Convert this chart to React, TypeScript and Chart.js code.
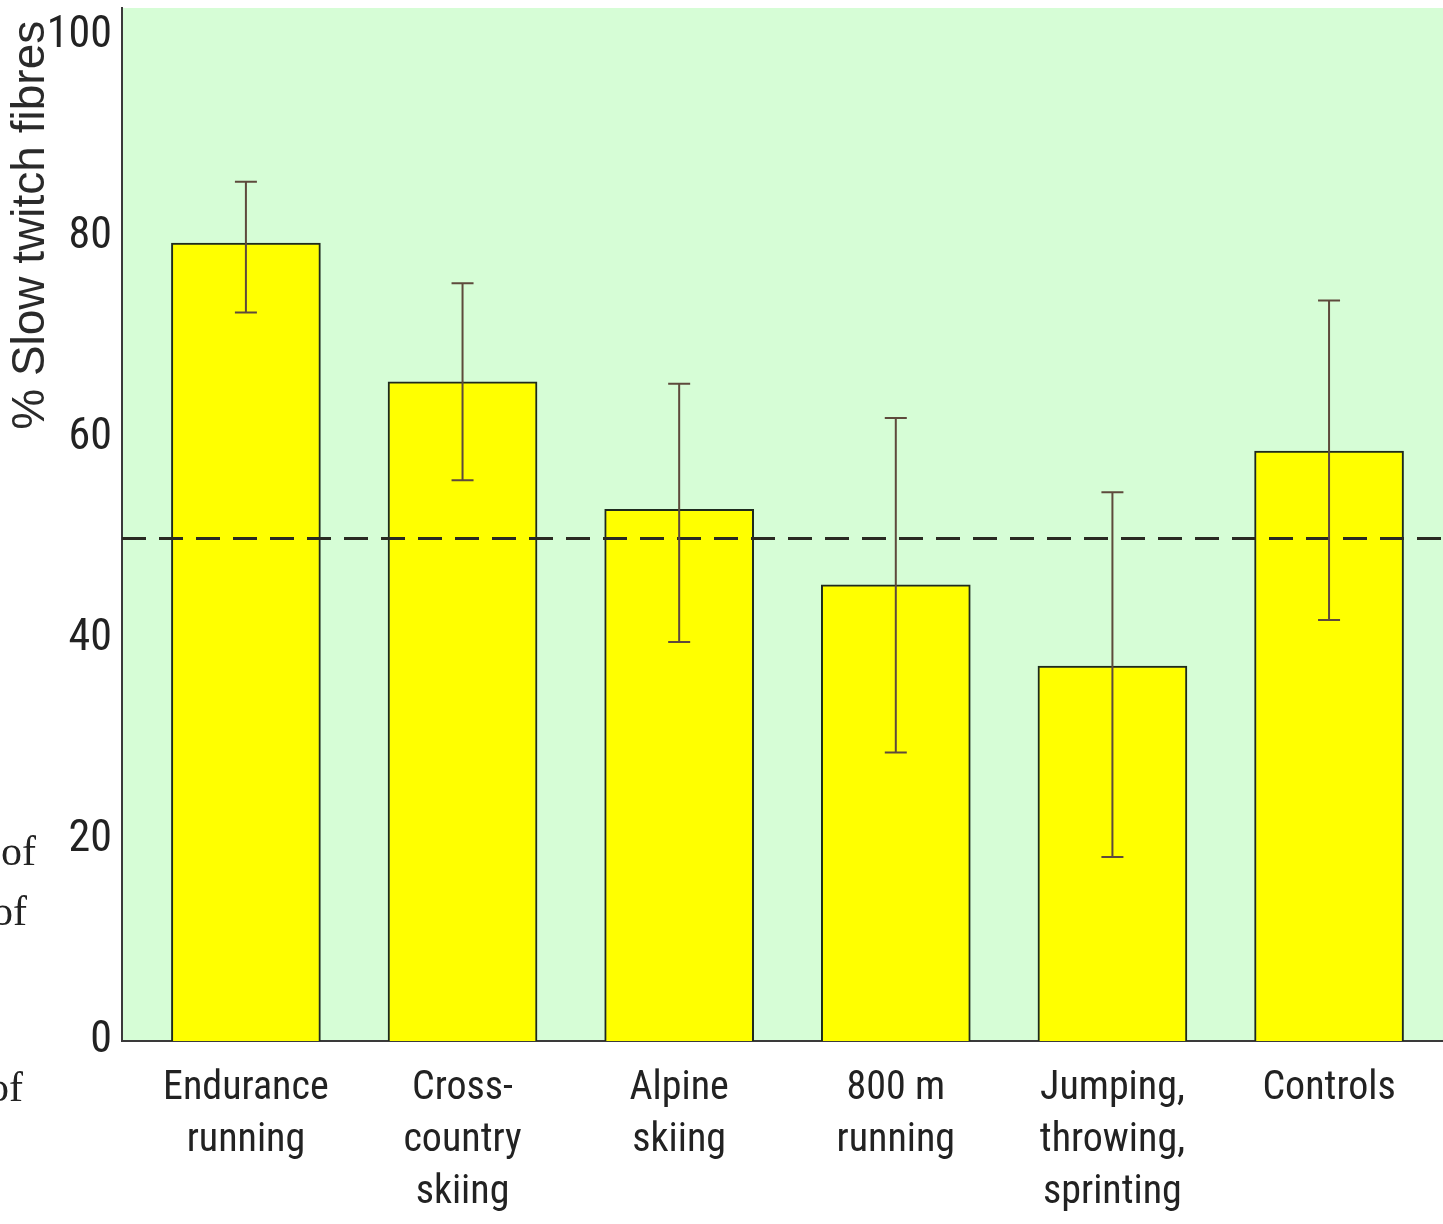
import React, { useEffect, useRef } from "react";
import { Chart, registerables } from "chart.js";

Chart.register(...registerables);

// ---- data ----
const categories = [
  "Endurance running",
  "Cross-country skiing",
  "Alpine skiing",
  "800 m running",
  "Jumping, throwing, sprinting",
  "Controls",
];
const categoryLines = [
  ["Endurance", "running"],
  ["Cross-", "country", "skiing"],
  ["Alpine", "skiing"],
  ["800 m", "running"],
  ["Jumping,", "throwing,", "sprinting"],
  ["Controls"],
];
const meanValues = [79.4, 65.6, 52.9, 45.4, 37.3, 58.7];
const errorHigh = [85.5, 75.4, 65.4, 62.0, 54.6, 73.7];
const errorLow = [72.5, 55.8, 39.7, 28.7, 18.3, 41.9];
const referenceLevel = 50;
const yTickValues = [0, 20, 40, 60, 80, 100];
const yAxisTitle = "% Slow twitch fibres";
const marginFragments = ["of", "of", "of"];

const X_MIN = -0.572;
const X_MAX = 5.526;
const Y_MAX = 102.8;

const NARROW = "'Liberation Sans Narrow', 'Arial Narrow', 'Roboto Condensed', 'Liberation Sans', sans-serif";

const backgroundPlugin = {
  id: "greenBackground",
  beforeDraw(chart: any) {
    const { ctx, chartArea } = chart;
    ctx.save();
    ctx.fillStyle = "#d6fdd6";
    ctx.fillRect(chartArea.left, chartArea.top, chartArea.right - chartArea.left, chartArea.bottom - chartArea.top);
    ctx.restore();
  },
};

const errorBarPlugin = {
  id: "errorBars",
  afterDatasetsDraw(chart: any) {
    const { ctx, scales } = chart;
    const xs = scales.x;
    const ys = scales.y;
    ctx.save();
    ctx.strokeStyle = "#5e4a3c";
    ctx.lineWidth = 2;
    const cap = 11;
    meanValues.forEach((_, i) => {
      const x = xs.getPixelForValue(i);
      const yh = ys.getPixelForValue(errorHigh[i]);
      const yl = ys.getPixelForValue(errorLow[i]);
      ctx.beginPath();
      ctx.moveTo(x, yh);
      ctx.lineTo(x, yl);
      ctx.moveTo(x - cap, yh);
      ctx.lineTo(x + cap, yh);
      ctx.moveTo(x - cap, yl);
      ctx.lineTo(x + cap, yl);
      ctx.stroke();
    });
    ctx.restore();
  },
};

export default function App() {
  const canvasRef = useRef<HTMLCanvasElement | null>(null);

  useEffect(() => {
    if (!canvasRef.current) return;
    const chart = new Chart(canvasRef.current, {
      type: "bar",
      data: {
        datasets: [
          {
            type: "line" as any,
            label: "reference",
            data: [
              { x: X_MIN, y: referenceLevel },
              { x: X_MAX, y: referenceLevel },
            ],
            borderColor: "#2a2a22",
            borderWidth: 3,
            borderDash: [24, 13],
            pointRadius: 0,
            fill: false,
            order: 1,
          },
          {
            type: "bar" as any,
            label: "Slow twitch fibres",
            data: categories.map((_, i) => ({ x: i, y: meanValues[i] })),
            backgroundColor: "#ffff00",
            borderColor: "#1e2a1e",
            borderWidth: 2,
            barThickness: 149,
            order: 2,
          },
        ],
      },
      options: {
        responsive: false,
        animation: false,
        events: [],
        layout: { autoPadding: false, padding: { top: 8, right: 0, left: 0, bottom: 0 } },
        plugins: {
          legend: { display: false },
          tooltip: { enabled: false },
          title: { display: false },
        },
        scales: {
          x: {
            type: "linear",
            min: X_MIN,
            max: X_MAX,
            offset: false,
            grid: { display: false, drawTicks: false },
            border: { display: true, color: "#3a3a3a", width: 2 },
            afterBuildTicks: (axis: any) => {
              axis.ticks = categories.map((_, i) => ({ value: i }));
            },
            afterFit: (scale: any) => {
              scale.height = 1224 - 1041;
              scale.paddingLeft = 0;
              scale.paddingRight = 0;
            },
            ticks: {
              autoSkip: false,
              maxRotation: 0,
              minRotation: 0,
              padding: 22,
              color: "#222222",
              font: { family: NARROW, size: 40, lineHeight: 1.3 },
              callback: (v: any) => categoryLines[Math.round(v)] ?? "",
            },
          },
          y: {
            type: "linear",
            min: 0,
            max: Y_MAX,
            grid: { display: false, drawTicks: false },
            border: { display: true, color: "#3a3a3a", width: 2 },
            afterBuildTicks: (axis: any) => {
              axis.ticks = yTickValues.map((v) => ({ value: v }));
            },
            afterFit: (scale: any) => {
              scale.width = 122;
              scale.paddingTop = 0;
              scale.paddingBottom = 0;
            },
            ticks: {
              padding: 10,
              color: "#222222",
              font: { family: NARROW, size: 44 },
            },
            title: {
              display: true,
              text: yAxisTitle + "\u00a0",
              align: "end",
              color: "#2a2a2a",
              padding: { top: 4, bottom: 0 },
              font: { family: "'Liberation Sans', Arial, sans-serif", size: 46 },
            },
          },
        },
      },
      plugins: [backgroundPlugin, errorBarPlugin],
    });
    return () => chart.destroy();
  }, []);

  const fragStyle: React.CSSProperties = {
    position: "absolute",
    fontFamily: "'Liberation Serif', 'Times New Roman', serif",
    fontSize: 42,
    color: "#222",
    lineHeight: 1,
  };

  return (
    <div style={{ position: "absolute", left: 0, top: 0, width: 1443, height: 1224, overflow: "hidden", background: "#fff" }}>
      <canvas ref={canvasRef} width={1443} height={1224} style={{ display: "block" }} />
      <span style={{ ...fragStyle, left: 1, top: 830 }}>{marginFragments[0]}</span>
      <span style={{ ...fragStyle, left: -8, top: 890 }}>{marginFragments[1]}</span>
      <span style={{ ...fragStyle, left: -12, top: 1066 }}>{marginFragments[2]}</span>
    </div>
  );
}
